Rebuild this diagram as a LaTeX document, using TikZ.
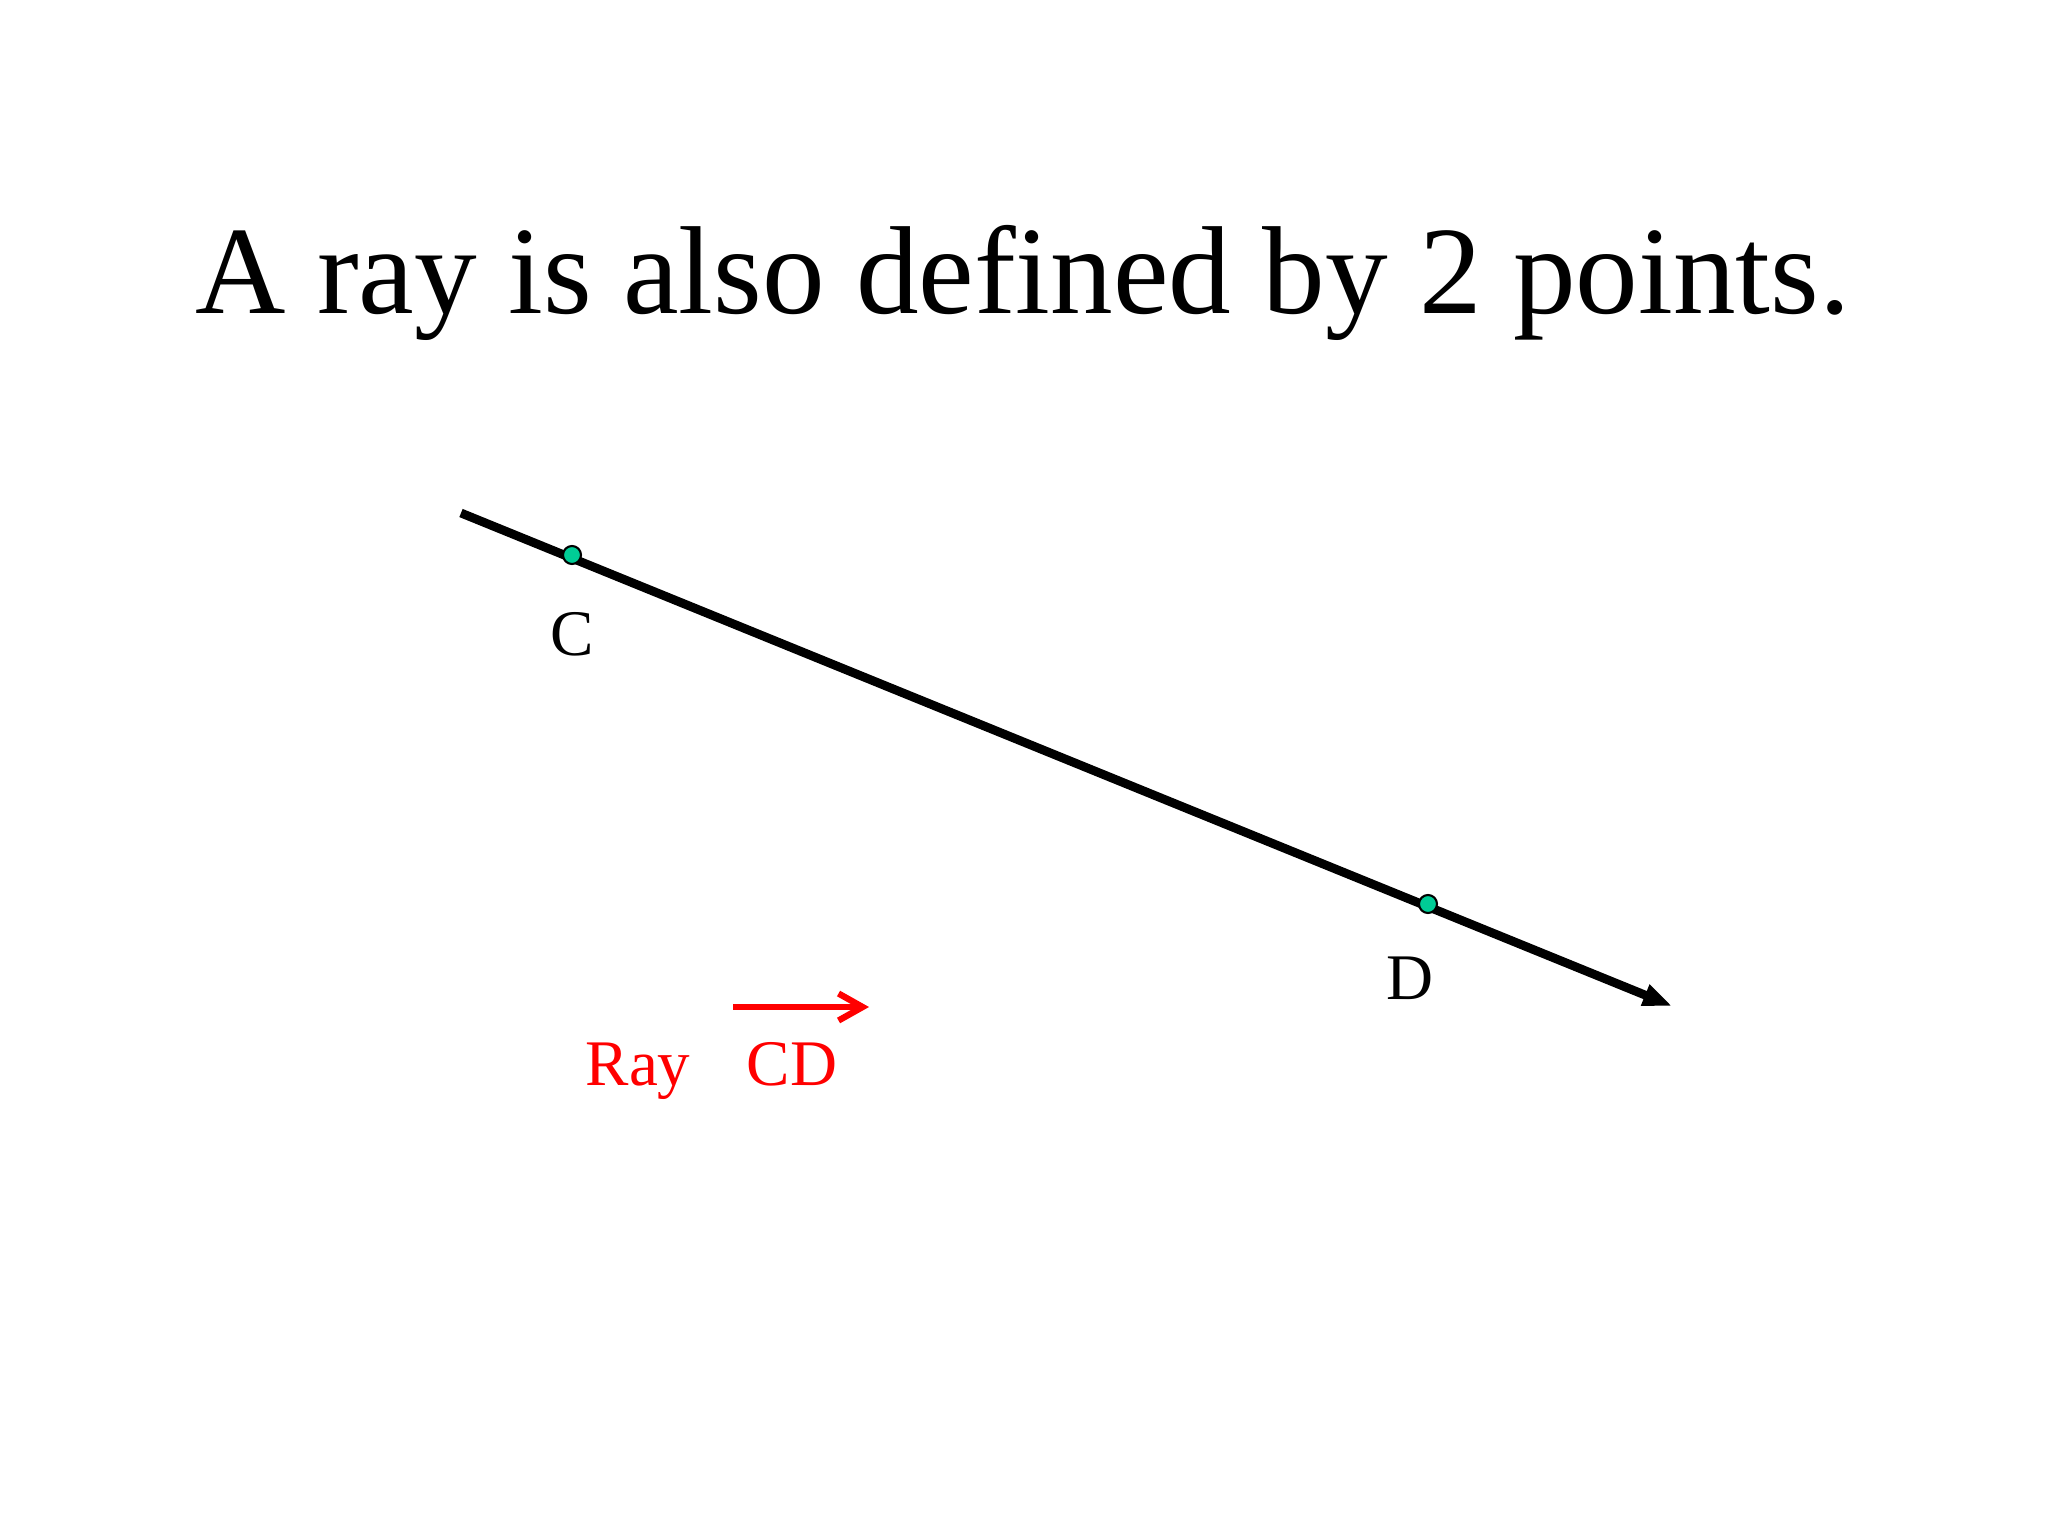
\documentclass[tikz,border=0pt]{standalone}
\usepackage{fontspec}
\setmainfont{Liberation Serif}
\usetikzlibrary{arrows.meta}
\definecolor{ptgreen}{RGB}{0,204,150}
\definecolor{rayred}{RGB}{255,0,0}
\tikzset{
  title/.style={inner sep=0pt, anchor=base, font=\fontsize{35.6}{40}\selectfont},
  ptlabel/.style={inner sep=0pt, anchor=base, font=\fontsize{18.5}{22}\selectfont},
  pt/.style={circle, draw=black, line width=0.6pt, fill=ptgreen, minimum size=0.18cm, inner sep=0pt},
  rayline/.style={line width=2.5pt, -{Triangle[length=0.29cm,width=0.21cm]}},
  redarrow/.style={rayred, line width=1.8pt, -{Straight Barb[length=0.24cm,width=0.27cm,line width=1.8pt]}}
}
\begin{document}
\begin{tikzpicture}[x=0.01cm,y=-0.01cm]
\useasboundingbox (0,0) rectangle (2048,1536);
\node[title] (t) at (1023,313) {A ray is also defined by 2 points.};
\coordinate (s) at (461,513);
\coordinate (e) at (1672,1006);
\draw[rayline] (s) -- (e);
\node[pt] (C) at (572,555) {};
\node[pt] (D) at (1428,904) {};
\node[ptlabel] (lc) at (572,655) {C};
\node[ptlabel] (ld) at (1410,999) {D};
\node[ptlabel, text=rayred, anchor=base west] (ray) at (585,1085) {Ray};
\node[ptlabel, text=rayred, anchor=base west] (cd) at (746,1085) {CD};
\coordinate (a1) at (733,1007);
\coordinate (a2) at (869,1007);
\draw[redarrow] (a1) -- (a2);
\end{tikzpicture}
\end{document}
